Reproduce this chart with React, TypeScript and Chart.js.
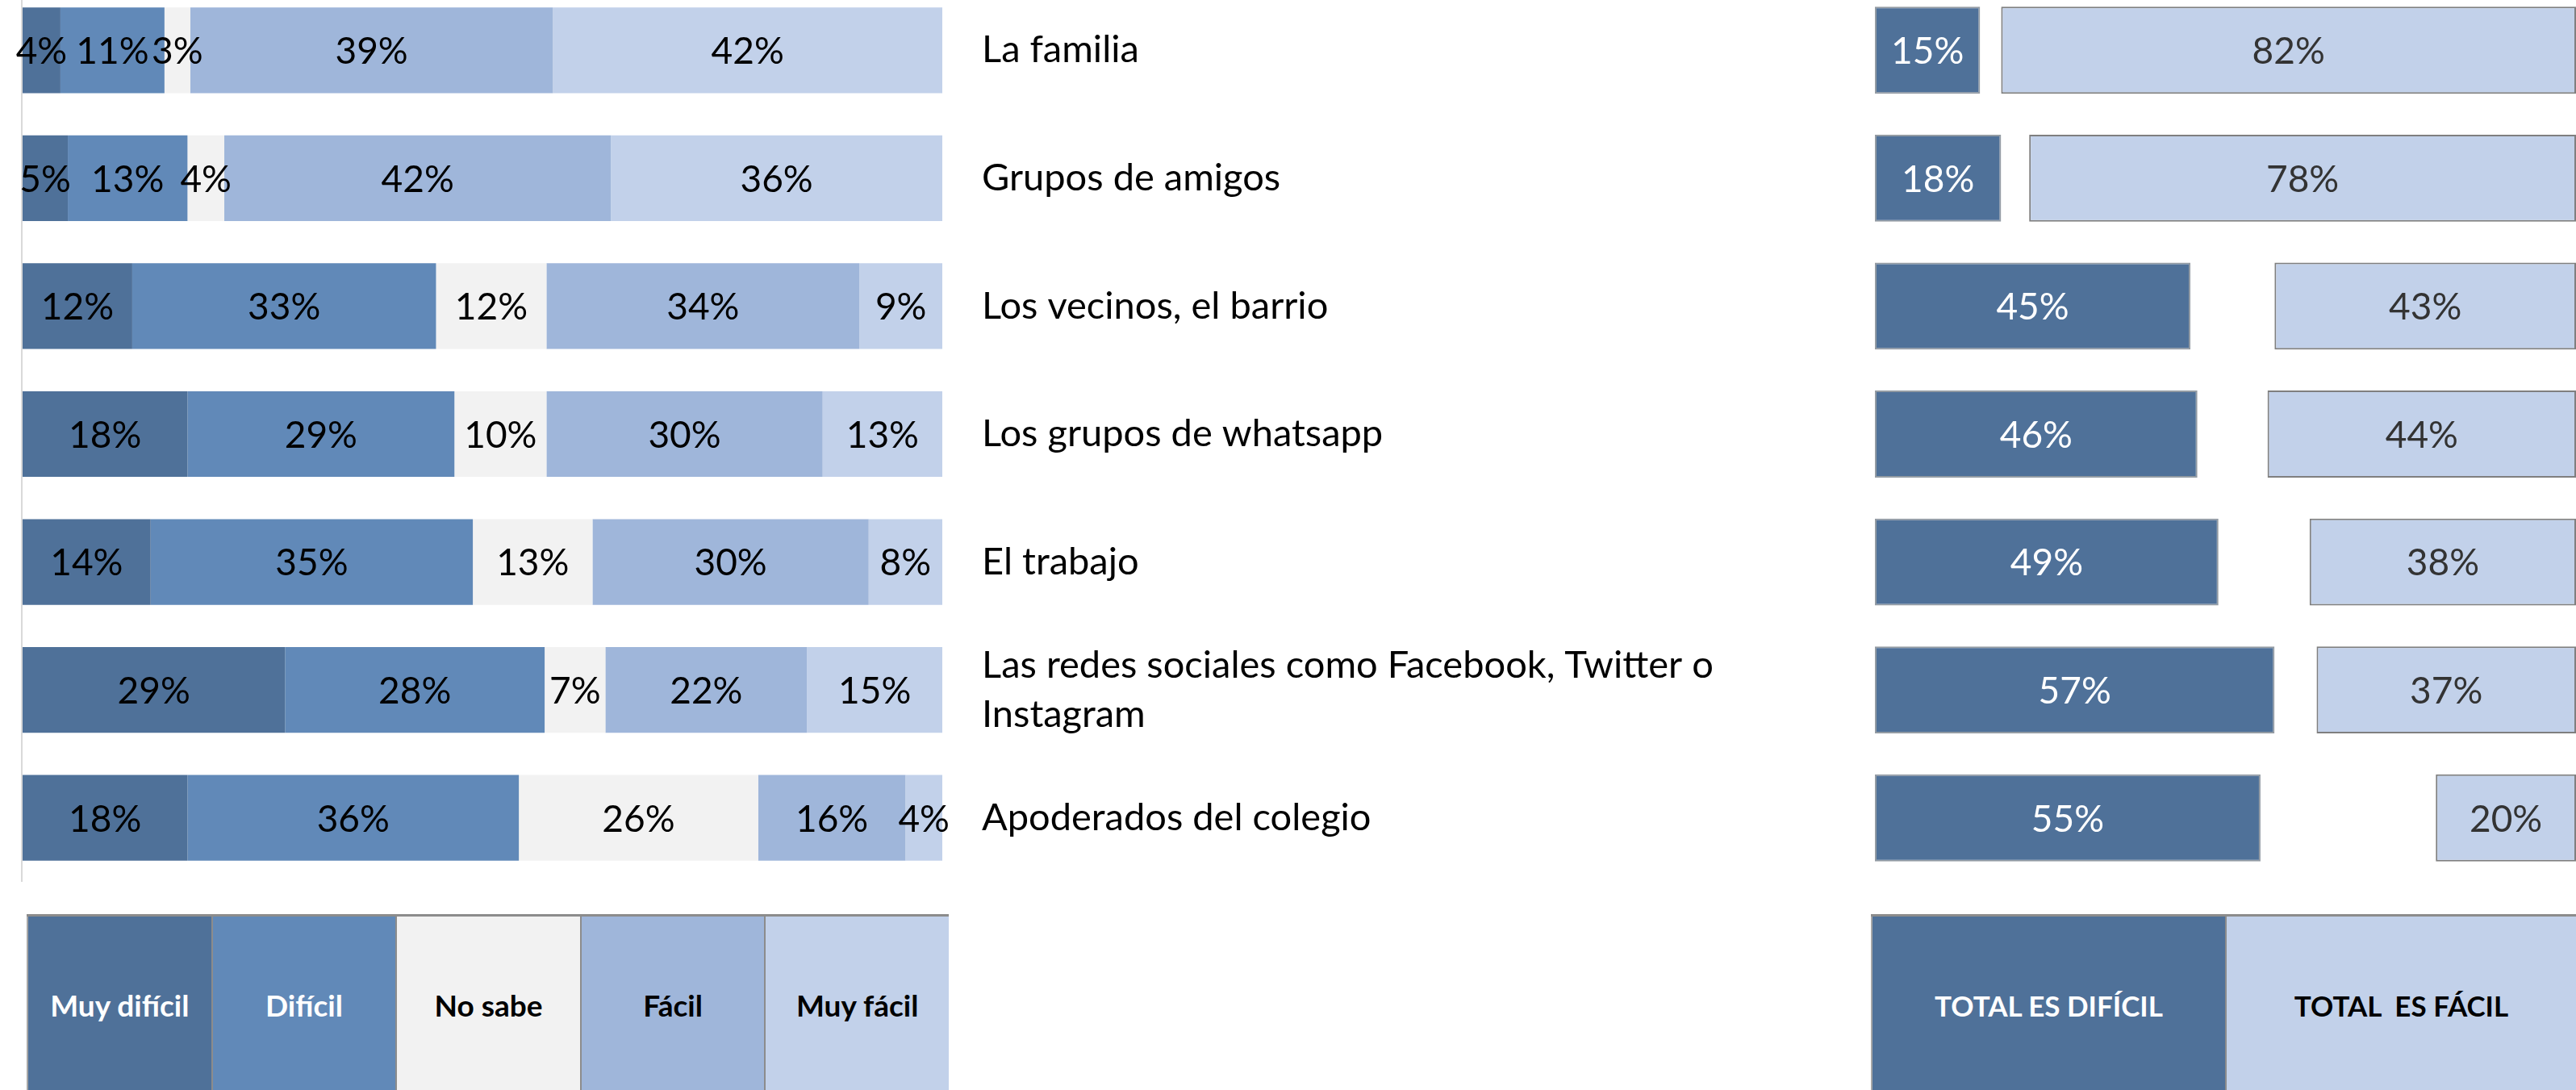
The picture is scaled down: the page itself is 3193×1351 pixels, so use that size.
import React, { useEffect, useRef } from 'react';
import { Chart, registerables } from 'chart.js';

Chart.register(...registerables);

// ---------- data ----------
const categories: (string | string[])[] = [
  'La familia',
  'Grupos de amigos',
  'Los vecinos, el barrio',
  'Los grupos de whatsapp',
  'El trabajo',
  ['Las redes sociales como Facebook, Twitter o', 'Instagram'],
  'Apoderados del colegio',
];
const seriesNames = ['Muy difícil', 'Difícil', 'No sabe', 'Fácil', 'Muy fácil'];
const muyDificil = [4.2, 5, 12, 18, 14, 28.6, 18];
const dificil = [11.3, 13, 33, 29, 35, 28.2, 36];
const noSabe = [2.8, 4, 12, 10, 13, 6.6, 26];
const facil = [39.4, 42, 34, 30, 30, 21.9, 16];
const muyFacil = [42.3, 36, 9, 13, 8, 14.7, 4];

const totalNames = ['TOTAL ES DIFÍCIL', 'TOTAL  ES FÁCIL'];
const totalDificil = [15, 18, 45, 46, 49, 57, 55];
const totalFacil = [82, 78, 43, 44, 38, 37, 20];

// ---------- style ----------
const COLORS = ['#4F7199', '#6189B8', '#F2F2F2', '#9FB6DA', '#C2D1EA'];
const LEGEND_TEXT = ['#FFFFFF', '#FFFFFF', '#000000', '#000000', '#000000'];
const FONT = 'Lato, "Open Sans", sans-serif';

const labelPlugin = {
  id: 'segLabels',
  afterDatasetsDraw(chart: any) {
    const ctx = chart.ctx;
    chart.data.datasets.forEach((ds: any, di: number) => {
      const meta = chart.getDatasetMeta(di);
      meta.data.forEach((el: any, i: number) => {
        const v = ds.labelValues ? ds.labelValues[i] : ds.data[i];
        const p = el.getCenterPoint();
        ctx.save();
        ctx.font = `${ds.labelSize || 46}px ${FONT}`;
        ctx.fillStyle = ds.labelColor || '#000';
        ctx.textAlign = 'center';
        ctx.textBaseline = 'middle';
        ctx.fillText(Math.round(v) + '%', p.x, p.y + 2);
        ctx.restore();
      });
    });
  },
};

const LEFT_W = 2300;
const PLOT_RIGHT = 1168;

export default function App() {
  const leftRef = useRef<HTMLCanvasElement>(null);
  const rightRef = useRef<HTMLCanvasElement>(null);

  useEffect(() => {
    const values = [muyDificil, dificil, noSabe, facil, muyFacil];
    const left = new Chart(leftRef.current!, {
      type: 'bar',
      data: {
        labels: categories as any,
        datasets: values.map((d, k) => ({
          label: seriesNames[k],
          data: d,
          backgroundColor: COLORS[k],
          borderWidth: 0,
          barPercentage: 0.67,
          categoryPercentage: 1,
          labelColor: '#000000',
        })) as any,
      },
      options: {
        indexAxis: 'y',
        animation: false,
        responsive: false,
        devicePixelRatio: 1,
        layout: { padding: { left: 27, right: 0, top: 0, bottom: 0 } },
        plugins: { legend: { display: false }, tooltip: { enabled: false } },
        scales: {
          x: {
            stacked: true,
            min: 0,
            max: 100,
            ticks: { display: false, stepSize: 100 },
            border: { display: false },
            grid: {
              drawTicks: false,
              lineWidth: 2,
              color: (c: any) => (c.tick && c.tick.value === 0 ? '#D9D9D9' : 'rgba(0,0,0,0)'),
            },
          },
          y: {
            stacked: true,
            position: 'right',
            border: { display: false },
            grid: { display: false, drawTicks: false },
            ticks: {
              color: '#000000',
              padding: 49,
              crossAlign: 'near',
              font: { family: FONT, size: 47, lineHeight: 1.3 },
            },
            afterFit: (s: any) => {
              s.width = LEFT_W - PLOT_RIGHT;
              s.paddingTop = 0;
              s.paddingBottom = 0;
            },
          },
        },
      } as any,
      plugins: [labelPlugin],
    });

    const right = new Chart(rightRef.current!, {
      type: 'bar',
      data: {
        labels: categories as any,
        datasets: [
          {
            label: totalNames[0],
            data: totalDificil.map((v) => [0, v]),
            labelValues: totalDificil,
            backgroundColor: COLORS[0],
            borderColor: 'rgba(120,130,140,0.8)',
            borderWidth: 2,
            borderSkipped: false,
            grouped: false,
            barPercentage: 0.68,
            categoryPercentage: 1,
            labelColor: '#FFFFFF',
          },
          {
            label: totalNames[1],
            data: totalFacil.map((v) => [100 - v, 100]),
            labelValues: totalFacil,
            backgroundColor: COLORS[4],
            borderColor: '#7F7F7F',
            borderWidth: 2,
            borderSkipped: false,
            grouped: false,
            barPercentage: 0.68,
            categoryPercentage: 1,
            labelColor: '#333333',
          },
        ] as any,
      },
      options: {
        indexAxis: 'y',
        animation: false,
        responsive: false,
        devicePixelRatio: 1,
        layout: { padding: 0 },
        plugins: { legend: { display: false }, tooltip: { enabled: false } },
        scales: {
          x: { display: false, min: 0, max: 100 },
          y: { display: false },
        },
      } as any,
      plugins: [labelPlugin],
    });

    return () => {
      left.destroy();
      right.destroy();
    };
  }, []);

  const leftCellW = (1176 - 33) / 5;
  const cellStyle = (
    bg: string,
    color: string,
    w: number,
    first: boolean,
    size: number
  ): React.CSSProperties => ({
    width: w,
    height: '100%',
    boxSizing: 'border-box',
    background: bg,
    color,
    display: 'flex',
    alignItems: 'center',
    justifyContent: 'center',
    fontFamily: FONT,
    fontWeight: 700,
    fontSize: size,
    borderLeft: first ? '2px solid #A6A6A6' : '2px solid #8C8C8C',
  });

  return (
    <div
      style={{
        position: 'absolute',
        left: 0,
        top: 0,
        width: 3193,
        height: 1351,
        overflow: 'hidden',
        background: '#FFFFFF',
      }}
    >
      <canvas
        ref={leftRef}
        width={LEFT_W}
        height={1110}
        style={{ position: 'absolute', left: 0, top: -17, width: LEFT_W, height: 1110 }}
      />
      <canvas
        ref={rightRef}
        width={869}
        height={1110}
        style={{ position: 'absolute', left: 2324, top: -17, width: 869, height: 1110 }}
      />
      <div
        style={{
          position: 'absolute',
          left: 33,
          top: 1133,
          width: 1176 - 33,
          height: 222,
          display: 'flex',
          borderTop: '3px solid #8C8C8C',
          boxSizing: 'border-box',
        }}
      >
        {seriesNames.map((n, k) => (
          <div key={n} style={cellStyle(COLORS[k], LEGEND_TEXT[k], leftCellW, k === 0, 37)}>
            {n}
          </div>
        ))}
      </div>
      <div
        style={{
          position: 'absolute',
          left: 2319,
          top: 1133,
          width: 3193 - 2319,
          height: 222,
          display: 'flex',
          borderTop: '3px solid #8C8C8C',
          boxSizing: 'border-box',
        }}
      >
        <div style={cellStyle(COLORS[0], '#FFFFFF', 2758 - 2319, true, 35)}>{totalNames[0]}</div>
        <div style={cellStyle(COLORS[4], '#000000', 3193 - 2758, false, 35)}>
          <span style={{ whiteSpace: 'pre' }}>{totalNames[1]}</span>
        </div>
      </div>
    </div>
  );
}
